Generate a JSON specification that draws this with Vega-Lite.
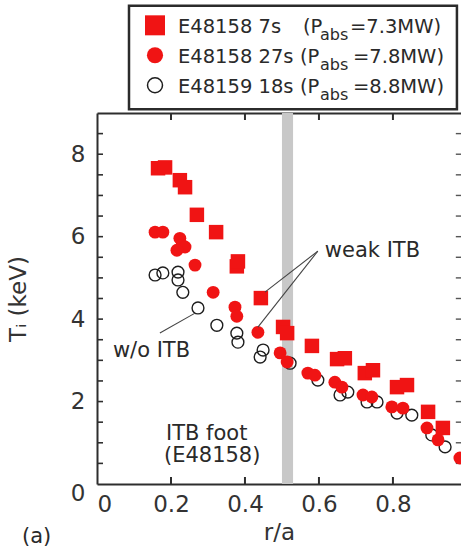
{
  "$schema": "https://vega.github.io/schema/vega-lite/v6.json",
  "width": 364,
  "height": 371,
  "autosize": {"type": "none"},
  "padding": {"left": 97, "top": 113, "right": 0, "bottom": 66},
  "background": "white",
  "config": {
    "view": {"stroke": null},
    "font": "DejaVu Sans",
    "axis": {
      "grid": false,
      "zindex": 1,
      "domainColor": "#2e2e2e",
      "domainWidth": 2,
      "ticks": false,
      "labelFont": "DejaVu Sans",
      "labelFontSize": 23,
      "labelColor": "#333333",
      "titleFont": "DejaVu Sans",
      "titleFontSize": 23,
      "titleFontWeight": "normal",
      "titleColor": "#333333"
    }
  },
  "datasets": {
    "profiles": [
      {"shot": "E48159 18s", "r": 0.157, "Ti": 5.07},
      {"shot": "E48159 18s", "r": 0.178, "Ti": 5.12},
      {"shot": "E48159 18s", "r": 0.219, "Ti": 5.14},
      {"shot": "E48159 18s", "r": 0.219, "Ti": 4.95},
      {"shot": "E48159 18s", "r": 0.232, "Ti": 4.65},
      {"shot": "E48159 18s", "r": 0.273, "Ti": 4.27},
      {"shot": "E48159 18s", "r": 0.324, "Ti": 3.85},
      {"shot": "E48159 18s", "r": 0.378, "Ti": 3.66},
      {"shot": "E48159 18s", "r": 0.381, "Ti": 3.44},
      {"shot": "E48159 18s", "r": 0.449, "Ti": 3.25},
      {"shot": "E48159 18s", "r": 0.441, "Ti": 3.08},
      {"shot": "E48159 18s", "r": 0.522, "Ti": 2.93},
      {"shot": "E48159 18s", "r": 0.597, "Ti": 2.52},
      {"shot": "E48159 18s", "r": 0.657, "Ti": 2.16},
      {"shot": "E48159 18s", "r": 0.678, "Ti": 2.23},
      {"shot": "E48159 18s", "r": 0.730, "Ti": 1.99},
      {"shot": "E48159 18s", "r": 0.757, "Ti": 1.99},
      {"shot": "E48159 18s", "r": 0.811, "Ti": 1.72},
      {"shot": "E48159 18s", "r": 0.851, "Ti": 1.67},
      {"shot": "E48159 18s", "r": 0.905, "Ti": 1.19},
      {"shot": "E48159 18s", "r": 0.941, "Ti": 0.90},
      {"shot": "E48158 27s", "r": 0.157, "Ti": 6.11},
      {"shot": "E48158 27s", "r": 0.178, "Ti": 6.11},
      {"shot": "E48158 27s", "r": 0.224, "Ti": 5.96},
      {"shot": "E48158 27s", "r": 0.230, "Ti": 5.79},
      {"shot": "E48158 27s", "r": 0.238, "Ti": 5.75},
      {"shot": "E48158 27s", "r": 0.216, "Ti": 5.67},
      {"shot": "E48158 27s", "r": 0.265, "Ti": 5.31},
      {"shot": "E48158 27s", "r": 0.314, "Ti": 4.65},
      {"shot": "E48158 27s", "r": 0.373, "Ti": 4.29},
      {"shot": "E48158 27s", "r": 0.378, "Ti": 4.07},
      {"shot": "E48158 27s", "r": 0.435, "Ti": 3.68},
      {"shot": "E48158 27s", "r": 0.495, "Ti": 3.18},
      {"shot": "E48158 27s", "r": 0.514, "Ti": 2.96},
      {"shot": "E48158 27s", "r": 0.570, "Ti": 2.69},
      {"shot": "E48158 27s", "r": 0.589, "Ti": 2.64},
      {"shot": "E48158 27s", "r": 0.643, "Ti": 2.47},
      {"shot": "E48158 27s", "r": 0.662, "Ti": 2.35},
      {"shot": "E48158 27s", "r": 0.719, "Ti": 2.16},
      {"shot": "E48158 27s", "r": 0.743, "Ti": 2.11},
      {"shot": "E48158 27s", "r": 0.797, "Ti": 1.87},
      {"shot": "E48158 27s", "r": 0.827, "Ti": 1.84},
      {"shot": "E48158 27s", "r": 0.892, "Ti": 1.36},
      {"shot": "E48158 27s", "r": 0.922, "Ti": 1.07},
      {"shot": "E48158 27s", "r": 0.981, "Ti": 0.63},
      {"shot": "E48158 7s", "r": 0.165, "Ti": 7.66},
      {"shot": "E48158 7s", "r": 0.184, "Ti": 7.68},
      {"shot": "E48158 7s", "r": 0.224, "Ti": 7.37},
      {"shot": "E48158 7s", "r": 0.238, "Ti": 7.20},
      {"shot": "E48158 7s", "r": 0.270, "Ti": 6.53},
      {"shot": "E48158 7s", "r": 0.322, "Ti": 6.11},
      {"shot": "E48158 7s", "r": 0.378, "Ti": 5.28},
      {"shot": "E48158 7s", "r": 0.381, "Ti": 5.40},
      {"shot": "E48158 7s", "r": 0.443, "Ti": 4.51},
      {"shot": "E48158 7s", "r": 0.503, "Ti": 3.81},
      {"shot": "E48158 7s", "r": 0.514, "Ti": 3.66},
      {"shot": "E48158 7s", "r": 0.581, "Ti": 3.35},
      {"shot": "E48158 7s", "r": 0.649, "Ti": 3.03},
      {"shot": "E48158 7s", "r": 0.670, "Ti": 3.05},
      {"shot": "E48158 7s", "r": 0.724, "Ti": 2.69},
      {"shot": "E48158 7s", "r": 0.746, "Ti": 2.76},
      {"shot": "E48158 7s", "r": 0.811, "Ti": 2.35},
      {"shot": "E48158 7s", "r": 0.838, "Ti": 2.40},
      {"shot": "E48158 7s", "r": 0.895, "Ti": 1.75},
      {"shot": "E48158 7s", "r": 0.935, "Ti": 1.36}
    ],
    "rTicks": [
      {"r": 0.2}, {"r": 0.4}, {"r": 0.6}, {"r": 0.8}
    ],
    "tiTicks": [
      {"Ti": 0.5}, {"Ti": 1}, {"Ti": 1.5}, {"Ti": 2}, {"Ti": 2.5}, {"Ti": 3},
      {"Ti": 3.5}, {"Ti": 4}, {"Ti": 4.5}, {"Ti": 5}, {"Ti": 5.5}, {"Ti": 6},
      {"Ti": 6.5}, {"Ti": 7}, {"Ti": 7.5}, {"Ti": 8}, {"Ti": 8.5}
    ],
    "leaders": [
      {"x": 0.597, "y": 5.65, "x2": 0.454, "y2": 4.655},
      {"x": 0.597, "y": 5.65, "x2": 0.435, "y2": 3.806},
      {"x": 0.170, "y": 3.661, "x2": 0.265, "y2": 4.145}
    ],
    "notes": [
      {"text": "weak ITB", "x": 0.616, "y": 5.503},
      {"text": "w/o ITB", "x": 0.043, "y": 3.079},
      {"text": "ITB foot", "x": 0.1865, "y": 1.06},
      {"text": "(E48158)", "x": 0.181, "y": 0.533},
      {"text": "(a)", "x": -0.2027, "y": -1.43}
    ],
    "legendBox": [
      {"x": 0.0865, "x2": 0.973, "y": 9.09, "y2": 11.6}
    ],
    "legendMarks": [
      {"shot": "E48158 7s", "x": 0.1568, "y": 11.127},
      {"shot": "E48158 27s", "x": 0.1568, "y": 10.4},
      {"shot": "E48159 18s", "x": 0.1568, "y": 9.673}
    ],
    "legendText": [
      {"part": "main", "text": "E48158 7s", "x": 0.2189, "y": 10.933},
      {"part": "main", "text": "(P", "x": 0.5568, "y": 10.933},
      {"part": "sub", "text": "abs", "x": 0.6027, "y": 10.764},
      {"part": "main", "text": "=7.3MW)", "x": 0.6838, "y": 10.933},
      {"part": "main", "text": "E48158 27s", "x": 0.2189, "y": 10.206},
      {"part": "main", "text": "(P", "x": 0.5486, "y": 10.206},
      {"part": "sub", "text": "abs", "x": 0.6027, "y": 10.036},
      {"part": "main", "text": "=7.8MW)", "x": 0.6919, "y": 10.206},
      {"part": "main", "text": "E48159 18s", "x": 0.2189, "y": 9.479},
      {"part": "main", "text": "(P", "x": 0.5486, "y": 9.479},
      {"part": "sub", "text": "abs", "x": 0.6027, "y": 9.309},
      {"part": "main", "text": "=8.8MW)", "x": 0.6919, "y": 9.479}
    ]
  },
  "layer": [
    {
      "layer": [
        {
          "data": {"values": [{}]},
          "mark": {"type": "rect", "color": "#c8c8c8"},
          "encoding": {
            "x": {
              "datum": 0.5,
              "type": "quantitative",
              "scale": {"domain": [0, 0.984], "nice": false, "zero": false},
              "axis": {
                "orient": "bottom",
                "title": "r/a",
                "values": [0, 0.2, 0.4, 0.6, 0.8],
                "format": "~g",
                "labelPadding": 9,
                "titlePadding": 5
              }
            },
            "x2": {"datum": 0.53},
            "y": {
              "datum": 0,
              "type": "quantitative",
              "scale": {"domain": [0, 9], "nice": false, "zero": false},
              "axis": {
                "orient": "left",
                "title": "Tᵢ (keV)",
                "values": [0, 2, 4, 6, 8],
                "labelOffset": {"condition": {"test": "datum.value === 0", "value": 9}, "value": 0},
                "labelPadding": 12,
                "titlePadding": 40
              }
            },
            "y2": {"datum": 9}
          }
        },
        {
          "data": {"name": "rTicks"},
          "mark": {"type": "rule", "color": "#2e2e2e", "strokeWidth": 2},
          "encoding": {
            "x": {"field": "r", "type": "quantitative"},
            "y": {"datum": 0, "type": "quantitative"},
            "y2": {"datum": 0.17}
          }
        },
        {
          "data": {"name": "rTicks"},
          "mark": {"type": "rule", "color": "#2e2e2e", "strokeWidth": 2},
          "encoding": {
            "x": {"field": "r", "type": "quantitative"},
            "y": {"datum": 9, "type": "quantitative"},
            "y2": {"datum": 8.83}
          }
        },
        {
          "data": {"name": "tiTicks"},
          "mark": {"type": "rule", "color": "#2e2e2e", "strokeWidth": 1.6},
          "encoding": {
            "y": {"field": "Ti", "type": "quantitative"},
            "x": {"datum": 0, "type": "quantitative"},
            "x2": {"datum": 0.0162}
          }
        },
        {
          "data": {"name": "tiTicks"},
          "mark": {"type": "rule", "color": "#555555", "strokeWidth": 1.4},
          "encoding": {
            "y": {"field": "Ti", "type": "quantitative"},
            "x": {"datum": 0.984, "type": "quantitative"},
            "x2": {"datum": 0.97}
          }
        },
        {
          "data": {"name": "profiles"},
          "transform": [{"filter": "datum.shot === 'E48159 18s'"}],
          "mark": {"type": "point", "shape": "circle", "filled": false, "stroke": "#1e1e1e", "strokeWidth": 1.4, "size": 140, "opacity": 1},
          "encoding": {
            "x": {"field": "r", "type": "quantitative"},
            "y": {"field": "Ti", "type": "quantitative"}
          }
        },
        {
          "data": {"name": "profiles"},
          "transform": [{"filter": "datum.shot === 'E48158 27s'"}],
          "mark": {"type": "point", "shape": "circle", "filled": true, "color": "#f01414", "size": 165, "opacity": 1},
          "encoding": {
            "x": {"field": "r", "type": "quantitative"},
            "y": {"field": "Ti", "type": "quantitative"}
          }
        },
        {
          "data": {"name": "profiles"},
          "transform": [{"filter": "datum.shot === 'E48158 7s'"}],
          "mark": {"type": "point", "shape": "square", "filled": true, "color": "#f01414", "size": 210, "opacity": 1},
          "encoding": {
            "x": {"field": "r", "type": "quantitative"},
            "y": {"field": "Ti", "type": "quantitative"}
          }
        },
        {
          "data": {"name": "leaders"},
          "mark": {"type": "rule", "color": "#444444", "strokeWidth": 1.1},
          "encoding": {
            "x": {"field": "x", "type": "quantitative"},
            "y": {"field": "y", "type": "quantitative"},
            "x2": {"field": "x2"},
            "y2": {"field": "y2"}
          }
        },
        {
          "data": {"name": "notes"},
          "mark": {"type": "text", "align": "left", "baseline": "alphabetic", "fontSize": 21, "color": "#2a2a2a"},
          "encoding": {
            "x": {"field": "x", "type": "quantitative"},
            "y": {"field": "y", "type": "quantitative"},
            "text": {"field": "text"}
          }
        },
        {
          "data": {"name": "legendBox"},
          "mark": {"type": "rect", "fill": "white", "stroke": "#2b2b2b", "strokeWidth": 2.5},
          "encoding": {
            "x": {"field": "x", "type": "quantitative"},
            "x2": {"field": "x2"},
            "y": {"field": "y", "type": "quantitative"},
            "y2": {"field": "y2"}
          }
        },
        {
          "data": {"name": "legendMarks"},
          "transform": [{"filter": "datum.shot === 'E48158 7s'"}],
          "mark": {"type": "point", "shape": "square", "filled": true, "color": "#f01414", "size": 400, "opacity": 1},
          "encoding": {
            "x": {"field": "x", "type": "quantitative"},
            "y": {"field": "y", "type": "quantitative"}
          }
        },
        {
          "data": {"name": "legendMarks"},
          "transform": [{"filter": "datum.shot === 'E48158 27s'"}],
          "mark": {"type": "point", "shape": "circle", "filled": true, "color": "#f01414", "size": 260, "opacity": 1},
          "encoding": {
            "x": {"field": "x", "type": "quantitative"},
            "y": {"field": "y", "type": "quantitative"}
          }
        },
        {
          "data": {"name": "legendMarks"},
          "transform": [{"filter": "datum.shot === 'E48159 18s'"}],
          "mark": {"type": "point", "shape": "circle", "filled": false, "stroke": "#1e1e1e", "strokeWidth": 1.5, "size": 225, "opacity": 1},
          "encoding": {
            "x": {"field": "x", "type": "quantitative"},
            "y": {"field": "y", "type": "quantitative"}
          }
        },
        {
          "data": {"name": "legendText"},
          "transform": [{"filter": "datum.part === 'main'"}],
          "mark": {"type": "text", "align": "left", "baseline": "alphabetic", "fontSize": 19.5, "color": "#2a2a2a"},
          "encoding": {
            "x": {"field": "x", "type": "quantitative"},
            "y": {"field": "y", "type": "quantitative"},
            "text": {"field": "text"}
          }
        },
        {
          "data": {"name": "legendText"},
          "transform": [{"filter": "datum.part === 'sub'"}],
          "mark": {"type": "text", "align": "left", "baseline": "alphabetic", "fontSize": 16, "color": "#2a2a2a"},
          "encoding": {
            "x": {"field": "x", "type": "quantitative"},
            "y": {"field": "y", "type": "quantitative"},
            "text": {"field": "text"}
          }
        }
      ]
    },
    {
      "data": {"values": [{}]},
      "mark": {"type": "point", "opacity": 0},
      "encoding": {
        "x": {
          "datum": 0,
          "type": "quantitative",
          "axis": {
            "orient": "top",
            "title": null,
            "labels": false,
            "values": [0, 0.2, 0.4, 0.6, 0.8]
          }
        }
      }
    }
  ],
  "resolve": {"axis": {"x": "independent", "y": "independent"}}
}
